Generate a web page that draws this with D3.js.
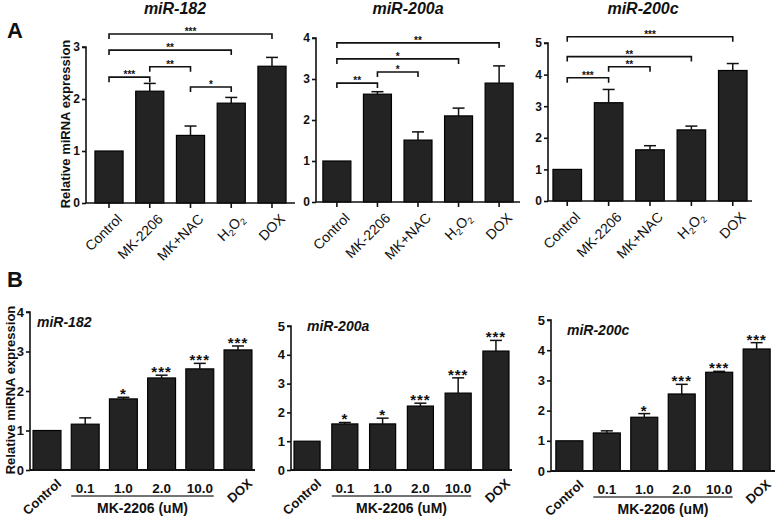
<!DOCTYPE html>
<html><head><meta charset="utf-8">
<script src="https://cdn.jsdelivr.net/npm/d3@7"></script>
<style>body{margin:0;background:#fff}svg{display:block}text{font-family:Arial,"Liberation Sans",sans-serif;fill:#111}</style>
</head><body><svg id="c" width="777" height="518"></svg>
<script>
// ---- Data ----
const catsA = ["Control","MK-2206","MK+NAC","H2O2","DOX"];
const titlesA = ["miR-182","miR-200a","miR-200c"];
const a182 = [1, 2.15, 1.30, 1.92, 2.63];
const a182Err = [0, 0.15, 0.18, 0.11, 0.17];
const a200a = [1, 2.63, 1.51, 2.10, 2.90];
const a200aErr = [0, 0.06, 0.20, 0.19, 0.42];
const a200c = [1, 3.11, 1.62, 2.25, 4.13];
const a200cErr = [0, 0.42, 0.13, 0.12, 0.22];
// brackets: [from, to, level, label]
const a182Br = [[0,4,3.25,"***"],[0,3,2.94,"**"],[1,2,2.62,"**"],[0,1,2.42,"***"],[2,3,2.23,"*"]];
const a200aBr = [[0,4,3.88,"**"],[0,3,3.49,"*"],[1,2,3.17,"*"],[0,1,2.90,"**"]];
const a200cBr = [[0,4,5.20,"***"],[0,3,4.57,"**"],[1,2,4.25,"**"],[0,1,3.90,"***"]];
const ticksA182 = [0,1,2,3], ticksA200a = [0,1,2,3,4], ticksA200c = [0,1,2,3,4,5];

const catsB = ["Control","0.1","1.0","2.0","10.0","DOX"];
const b182 = [1, 1.16, 1.80, 2.33, 2.56, 3.04];
const b182Err = [0, 0.16, 0.04, 0.07, 0.14, 0.10];
const b182Sig = ["","","*","***","***","***"];
const b200a = [1, 1.60, 1.60, 2.22, 2.67, 4.13];
const b200aErr = [0, 0.05, 0.20, 0.10, 0.53, 0.37];
const b200aSig = ["","*","*","***","***","***"];
const b200c = [1, 1.26, 1.78, 2.55, 3.27, 4.04];
const b200cErr = [0, 0.07, 0.12, 0.32, 0.03, 0.21];
const b200cSig = ["","","*","***","***","***"];
const ticksB182 = [0,1,2,3,4], ticksB200 = [0,1,2,3,4,5];
const doseLabel = "MK-2206 (uM)";
const yLabel = "Relative miRNA expression";

const svg = d3.select("#c");
const BAR = "#232323";

function yAxisDraw(g, y, ticks, x0, fs) {
  const ax = g.append("g").attr("transform", `translate(${x0},0)`)
    .call(d3.axisLeft(y).tickValues(ticks).tickFormat(d3.format("d")).tickSize(4).tickPadding(2));
  ax.attr("font-family", null).attr("font-size", null);
  ax.select(".domain").attr("stroke","#111").attr("stroke-width",1.6).attr("d", `M-4,${y(ticks[ticks.length-1])}H0V${y(0)}`);
  ax.selectAll(".tick line").attr("stroke","#111").attr("stroke-width",1.6);
  ax.selectAll(".tick text").style("font-size",fs+"px").style("font-weight","bold").attr("fill","#111");
}

function bars(g, x, y, cats, vals, errs) {
  const data = cats.map((c,i)=>({c, v:vals[i], e:errs[i]}));
  g.selectAll("rect.bar").data(data).join("rect").attr("class","bar")
    .attr("x", d=>x(d.c)).attr("width", x.bandwidth())
    .attr("y", d=>y(d.v)).attr("height", d=>y(0)-y(d.v))
    .attr("fill", BAR).attr("stroke","#000").attr("stroke-width",1.2);
  const eb = data.filter(d=>d.e>0);
  g.selectAll("line.ev").data(eb).join("line").attr("class","ev")
    .attr("x1", d=>x(d.c)+x.bandwidth()/2).attr("x2", d=>x(d.c)+x.bandwidth()/2)
    .attr("y1", d=>y(d.v)).attr("y2", d=>y(d.v+d.e)).attr("stroke","#111").attr("stroke-width",1.5);
  g.selectAll("line.ec").data(eb).join("line").attr("class","ec")
    .attr("x1", d=>x(d.c)+x.bandwidth()/2-6).attr("x2", d=>x(d.c)+x.bandwidth()/2+6)
    .attr("y1", d=>y(d.v+d.e)).attr("y2", d=>y(d.v+d.e)).attr("stroke","#111").attr("stroke-width",1.5);
}

function panelA(cfg) {
  const g = svg.append("g");
  const x = d3.scaleBand().domain(catsA).range([cfg.x0, cfg.x1]).paddingInner(0.31).paddingOuter(cfg.po);
  const y = d3.scaleLinear().domain([0, cfg.ticks[cfg.ticks.length-1]]).range([cfg.y0, cfg.yTop]);
  bars(g, x, y, catsA, cfg.vals, cfg.errs);
  yAxisDraw(g, y, cfg.ticks, cfg.x0, 12);
  // x axis
  const xa = g.append("g").attr("transform", `translate(0,${cfg.y0})`)
    .call(d3.axisBottom(x).tickSize(5).tickFormat(""));
  xa.select(".domain").attr("stroke","#111").attr("stroke-width",1.6).attr("d", `M${cfg.x0},0H${cfg.x1}`);
  xa.selectAll(".tick line").attr("stroke","#111").attr("stroke-width",1.6);
  // x labels
  catsA.forEach(c=>{
    const cx = x(c)+x.bandwidth()/2;
    const t = g.append("text").attr("transform", `translate(${cx+7},${cfg.y0+10}) rotate(-45)`)
      .attr("text-anchor","end").attr("font-size",14).attr("dy","0.7em");
    if (c === "H2O2") {
      t.append("tspan").text("H");
      t.append("tspan").text("2").attr("font-size",9).attr("dy",3);
      t.append("tspan").text("O").attr("dy",-3);
      t.append("tspan").text("2").attr("font-size",9).attr("dy",3);
    } else t.text(c);
  });
  // brackets
  cfg.br.forEach(([a,b,lv,lab])=>{
    const xa1 = x(catsA[a])+x.bandwidth()/2, xb = x(catsA[b])+x.bandwidth()/2, yy = y(lv);
    g.append("path").attr("d", `M${xa1},${yy+5}V${yy}H${xb}V${yy+5}`).attr("fill","none").attr("stroke","#111").attr("stroke-width",1.6);
    g.append("text").attr("x",(xa1+xb)/2).attr("y",yy+1).attr("text-anchor","middle").attr("font-size",10).attr("font-weight","bold").attr("fill","#333").text(lab);
  });
  // title
  g.append("text").attr("x", cfg.tx).attr("y", 14).attr("text-anchor","middle").attr("font-size",16)
    .attr("font-weight","bold").attr("font-style","italic").text(cfg.title);
}

function panelB(cfg) {
  const g = svg.append("g");
  const x = d3.scaleBand().domain(catsB).range([cfg.x0, cfg.x1]).paddingInner(cfg.pi).paddingOuter(cfg.po);
  const y = d3.scaleLinear().domain([0, cfg.ticks[cfg.ticks.length-1]]).range([cfg.y0, cfg.yTop]);
  bars(g, x, y, catsB, cfg.vals, cfg.errs);
  yAxisDraw(g, y, cfg.ticks, cfg.x0, 13);
  g.append("line").attr("x1",cfg.x0).attr("x2",cfg.x1).attr("y1",y(0)).attr("y2",y(0)).attr("stroke","#111").attr("stroke-width",1.8);
  // significance
  catsB.forEach((c,i)=>{
    if (!cfg.sig[i]) return;
    g.append("text").attr("x", x(c)+x.bandwidth()/2).attr("y", y(cfg.vals[i]+cfg.errs[i]) + 2)
      .attr("text-anchor","middle").attr("font-size",15).attr("font-weight","bold").attr("letter-spacing",1).text(cfg.sig[i]);
  });
  // x labels
  [catsB[0], catsB[5]].forEach(c=>{
    const cx = x(c)+x.bandwidth()/2;
    g.append("text").attr("transform", `translate(${cx+9},${cfg.y0+8}) rotate(-42)`)
      .attr("text-anchor","end").attr("dy","0.7em").attr("font-size",13).attr("font-weight","bold").text(c);
  });
  catsB.slice(1,5).forEach(c=>{
    g.append("text").attr("x", x(c)+x.bandwidth()/2).attr("y", cfg.y0+23).attr("text-anchor","middle")
      .attr("font-size",13.5).attr("font-weight","bold").text(c);
  });
  g.append("line").attr("x1", x(catsB[1])).attr("x2", x(catsB[4])+x.bandwidth())
    .attr("y1", cfg.y0+26).attr("y2", cfg.y0+26).attr("stroke","#444").attr("stroke-width",1.4);
  g.append("text").attr("x", (x(catsB[1]) + x(catsB[4])+x.bandwidth())/2).attr("y", cfg.y0+43)
    .attr("text-anchor","middle").attr("font-size",14).attr("font-weight","bold").text(doseLabel);
  g.append("text").attr("x", cfg.x0+cfg.lx).attr("y", cfg.ly).attr("font-size",14).attr("font-weight","bold")
    .attr("font-style","italic").text(cfg.title);
}

panelA({x0:86, x1:295, po:0.22, y0:203, yTop:47, ticks:ticksA182, vals:a182, errs:a182Err, br:a182Br, title:titlesA[0], tx:175});
panelA({x0:316, x1:520, po:0.17, y0:202, yTop:38, ticks:ticksA200a, vals:a200a, errs:a200aErr, br:a200aBr, title:titlesA[1], tx:408});
panelA({x0:548, x1:752, po:0.12, y0:201, yTop:43, ticks:ticksA200c, vals:a200c, errs:a200cErr, br:a200cBr, title:titlesA[2], tx:643});

panelB({x0:30, x1:255, pi:0.27, po:0.08, y0:470, yTop:312, ticks:ticksB182, vals:b182, errs:b182Err, sig:b182Sig, title:titlesA[0], lx:7, ly:327});
panelB({x0:291, x1:512, pi:0.31, po:0.08, y0:470, yTop:326, ticks:ticksB200, vals:b200a, errs:b200aErr, sig:b200aSig, title:titlesA[1], lx:16, ly:331});
panelB({x0:551, x1:775, pi:0.28, po:0.13, y0:471, yTop:320, ticks:ticksB200, vals:b200c, errs:b200cErr, sig:b200cSig, title:titlesA[2], lx:16, ly:335});

// y labels
svg.append("text").attr("transform","translate(70,124) rotate(-90)").attr("text-anchor","middle")
  .attr("font-size",13).attr("font-weight","bold").text(yLabel);
svg.append("text").attr("transform","translate(15,390) rotate(-90)").attr("text-anchor","middle")
  .attr("font-size",13).attr("font-weight","bold").text(yLabel);
// panel letters
svg.append("text").attr("x",7).attr("y",38).attr("font-size",22).attr("font-weight","bold").text("A");
svg.append("text").attr("x",7).attr("y",287).attr("font-size",22).attr("font-weight","bold").text("B");
</script></body></html>
